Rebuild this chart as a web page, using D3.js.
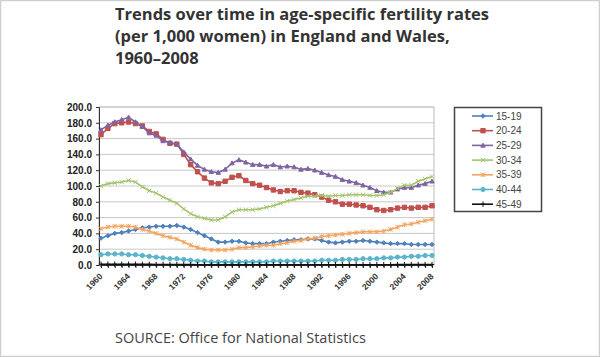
<!DOCTYPE html>
<html><head><meta charset="utf-8">
<script src="https://cdn.jsdelivr.net/npm/d3@7"></script>
<style>body{margin:0;background:#fff}svg{display:block}</style>
</head><body><svg id="c" width="600" height="357"></svg>
<script>
const years = d3.range(1960, 2009);
const seriesNames = ["15-19","20-24","25-29","30-34","35-39","40-44","45-49"];
const rate1519 = [34,37,40,41,43,45,47,48,49,49,49,50,48,45,41,37,33,29,29,30,30,28,27,27,27,29,30,31,32,32,33,33,31,29,28,29,30,30,31,30,29,28,27,27,27,26,26,26,26];
const rate2024 = [165,173,179,180,181,179,176,169,166,159,154,153,140,127,118,110,104,103,106,111,113,107,103,101,98,95,93,94,94,92,91,89,86,82,80,77,77,76,75,73,70,69,70,72,73,72,73,73,75];
const rate2529 = [171,177,181,184,187,181,175,167,164,157,155,153,143,134,126,121,118,117,121,129,133,130,127,127,125,127,124,125,124,121,122,120,117,114,112,108,106,104,101,98,94,92,92,96,98,98,101,103,106];
const rate3034 = [100,103,104,105,107,105,99,94,91,86,82,78,71,65,61,59,57,57,61,67,70,70,70,71,73,75,78,81,83,85,87,87,88,87,88,88,89,89,89,88,88,89,92,97,101,101,106,109,112];
const rate3539 = [46,48,49,49,49,48,45,43,40,37,35,33,29,25,22,20,19,19,19,20,22,22,23,24,25,25,27,28,30,31,33,34,36,37,38,39,40,41,42,42,42,43,45,48,51,52,54,56,58];
const rate4044 = [13,14,14,14,13,13,12,11,10,9,8,8,7,6,5,5,4,4,4,4,4,4,4,4,4,5,5,5,5,5,5,5,6,6,6,7,7,7,8,8,8,9,9,10,10,11,11,12,12];
const rate4549 = [1.0,1.0,1.0,0.9,0.9,0.9,0.8,0.8,0.7,0.7,0.6,0.6,0.5,0.5,0.4,0.4,0.3,0.3,0.3,0.3,0.3,0.3,0.3,0.3,0.3,0.3,0.3,0.3,0.3,0.3,0.3,0.3,0.3,0.3,0.3,0.3,0.3,0.3,0.3,0.4,0.4,0.4,0.4,0.5,0.5,0.5,0.6,0.6,0.6];
const yTicks = [0,20,40,60,80,100,120,140,160,180,200];
const xTickYears = [1960,1964,1968,1972,1976,1980,1984,1988,1992,1996,2000,2004,2008];
const titleLines = ["Trends over time in age-specific fertility rates","(per 1,000 women) in England and Wales,","1960–2008"];
const sourceText = "SOURCE: Office for National Statistics";

const allValues = [rate1519,rate2024,rate2529,rate3034,rate3539,rate4044,rate4549];
const colors = ["#4F81BD","#C0504D","#8064A2","#A4C46C","#F5A45E","#5AB4CC","#111111"];
const markers = ["diamond","square","triangle","x","star","circle","plus"];

const svg = d3.select("#c");
svg.append("rect").attr("x",0.5).attr("y",0.5).attr("width",599).attr("height",356)
  .attr("fill","#fff").attr("stroke","#cfcfcf").attr("stroke-width",1.5);

svg.selectAll("text.title").data(titleLines).join("text").attr("class","title")
  .attr("x",115).attr("y",(d,i)=>20+i*22)
  .attr("font-family","'Open Sans', sans-serif").attr("font-weight",700)
  .attr("font-size",16.5).attr("fill","#333").text(d=>d);

svg.append("text").attr("x",115).attr("y",343)
  .attr("font-family","'Open Sans', sans-serif").attr("font-size",14.5)
  .attr("fill","#444").text(sourceText);

const x = d3.scaleLinear().domain([1960,2008]).range([101,432]);
const y = d3.scaleLinear().domain([0,200]).range([265,107]);

svg.append("rect").attr("x",99).attr("y",107).attr("width",335).attr("height",158)
  .attr("fill","none").attr("stroke","#bdbdbd").attr("stroke-width",1);

svg.append("g").selectAll("line").data(yTicks.slice(1)).join("line")
  .attr("x1",99).attr("x2",434).attr("y1",d=>y(d)).attr("y2",d=>y(d))
  .attr("stroke","#c8c8c8").attr("stroke-width",1);

const yAxis = svg.append("g").attr("transform","translate(99,0)")
  .call(d3.axisLeft(y).tickValues(yTicks).tickFormat(d3.format(".1f")).tickSize(3));
yAxis.select(".domain").attr("stroke","#333");
yAxis.selectAll("line").attr("stroke","#333");
yAxis.selectAll("text").attr("font-family","Arial, 'Liberation Sans', sans-serif")
  .attr("font-size",10).attr("font-weight","bold").attr("fill","#222").attr("dx",-1);

const xAxis = svg.append("g").attr("transform","translate(0,265)")
  .call(d3.axisBottom(x).tickValues(years).tickFormat("").tickSize(3));
xAxis.select(".domain").attr("stroke","#333");
xAxis.selectAll("line").attr("stroke","#333");

svg.append("g").selectAll("text").data(xTickYears).join("text")
  .attr("transform",d=>`translate(${x(d)+2},${277}) rotate(-45)`)
  .attr("text-anchor","end").attr("font-family","Arial, 'Liberation Sans', sans-serif")
  .attr("font-size",8.5).attr("font-weight","bold").attr("fill","#333").text(d=>d);

function markerPath(type){
  const s=2.2;
  switch(type){
    case "diamond": return `M0,${-s}L${s},0L0,${s}L${-s},0Z`;
    case "square": return `M${-s},${-s}H${s}V${s}H${-s}Z`;
    case "triangle": return `M0,${-s}L${s},${s*0.8}L${-s},${s*0.8}Z`;
    case "x": return `M${-s},${-s}L${s},${s}M${s},${-s}L${-s},${s}`;
    case "star": return `M${-s},${-s}L${s},${s}M${s},${-s}L${-s},${s}M0,${-s}V${s}`;
    case "circle": return d3.symbol(d3.symbolCircle,14)();
    case "plus": return `M${-s},0H${s}M0,${-s-0.5}V${s+0.5}`;
  }
}
const line = d3.line().x((d,i)=>x(years[i])).y(d=>y(d));
const plot = svg.append("g");
allValues.forEach((vals,k)=>{
  const g = plot.append("g");
  g.append("path").datum(vals).attr("d",line).attr("fill","none")
    .attr("stroke",colors[k]).attr("stroke-width",1.6);
  const filled = ["diamond","square","triangle","circle"].includes(markers[k]);
  g.selectAll("path.m").data(vals).join("path").attr("class","m")
    .attr("transform",(d,i)=>`translate(${x(years[i])},${y(d)})`)
    .attr("d",markerPath(markers[k]))
    .attr("fill",filled?colors[k]:"none").attr("stroke",colors[k]).attr("stroke-width",1);
});

const lg = svg.append("g");
lg.append("rect").attr("x",454.5).attr("y",107.5).attr("width",87).attr("height",104)
  .attr("fill","#fff").attr("stroke","#444").attr("stroke-width",1.5);
const items = lg.selectAll("g").data(seriesNames).join("g")
  .attr("transform",(d,i)=>`translate(0,${116+i*14.7})`);
items.append("line").attr("x1",472).attr("x2",493).attr("y1",0).attr("y2",0)
  .attr("stroke",(d,i)=>colors[i]).attr("stroke-width",1.6);
items.append("path").attr("transform","translate(483,0)")
  .attr("d",(d,i)=>markerPath(markers[i]))
  .attr("fill",(d,i)=>["diamond","square","triangle","circle"].includes(markers[i])?colors[i]:"none")
  .attr("stroke",(d,i)=>colors[i]).attr("stroke-width",1);
items.append("text").attr("x",496).attr("y",0).attr("dy","0.35em")
  .attr("font-family","Arial, 'Liberation Sans', sans-serif").attr("font-size",10)
  .attr("fill","#444").text(d=>d);
</script></body></html>
